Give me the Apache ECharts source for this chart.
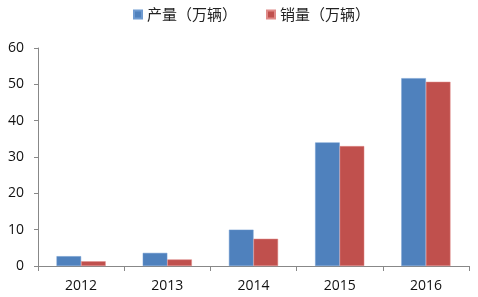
<!DOCTYPE html>
<html><head><meta charset="utf-8">
<script src="https://cdn.jsdelivr.net/npm/echarts@6/dist/echarts.min.js"></script>
<style>html,body{margin:0;padding:0;background:#fff}#c{width:478px;height:297px}</style>
</head><body><div id="c"></div>
<script>
const categories = ['2012','2013','2014','2015','2016'];
const production = [2.7, 3.6, 10.0, 34.0, 51.7];
const sales = [1.3, 1.8, 7.5, 33.0, 50.7];
const seriesNames = ['产量（万辆）','销量（万辆）'];
const font = '"Noto Sans CJK SC", "Open Sans", sans-serif';
const chart = echarts.init(document.getElementById('c'), null, {renderer:'canvas'});
chart.setOption({
  animation:false,
  backgroundColor:'#fff',
  legend:{top:2, left:128, itemWidth:8, itemHeight:8, itemGap:29,
    icon:'rect',
    textStyle:{fontFamily:font, fontSize:15, color:'#222'},
    data:seriesNames},
  grid:{left:38, right:9, top:48, bottom:31, containLabel:false},
  xAxis:{type:'category', data:categories,
    axisLine:{lineStyle:{color:'#888'}},
    axisTick:{show:true, length:5, inside:false, lineStyle:{color:'#888'}},
    axisLabel:{fontFamily:'"Open Sans", sans-serif', fontSize:14, color:'#111', margin:13}},
  yAxis:{type:'value', min:0, max:60, interval:10,
    splitLine:{show:false},
    axisLine:{show:true, lineStyle:{color:'#888'}},
    axisTick:{show:true, length:4, lineStyle:{color:'#888'}},
    axisLabel:{fontFamily:'"Open Sans", sans-serif', fontSize:14, color:'#111', margin:14}},
  series:[
    {name:seriesNames[0], type:'bar', data:production, barGap:'0%', barCategoryGap:'43%',
      itemStyle:{color:'#4F81BD', borderColor:'#6f9bd1', borderWidth:0.5}},
    {name:seriesNames[1], type:'bar', data:sales, barGap:'0%', barCategoryGap:'43%',
      itemStyle:{color:'#C0504D', borderColor:'#e08a88', borderWidth:0.5}}
  ]
});
</script></body></html>
